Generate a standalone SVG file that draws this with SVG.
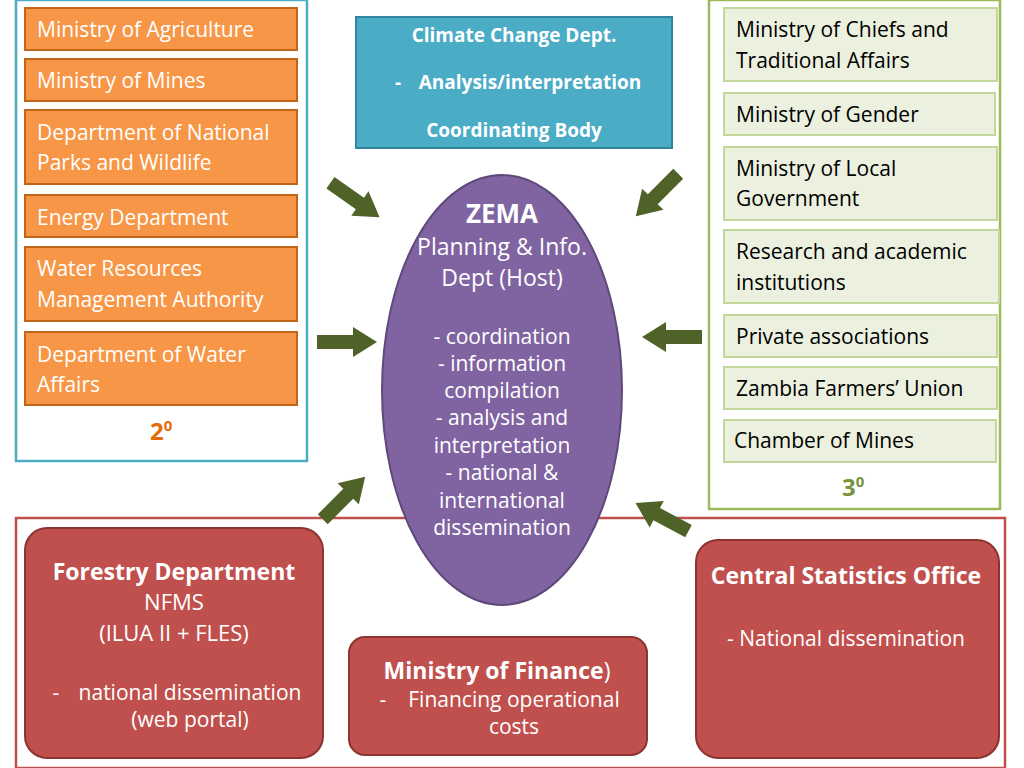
<svg xmlns="http://www.w3.org/2000/svg" width="1024" height="768" viewBox="0 0 1024 768">
<style>
.or{fill:#f79646;stroke:#c0661a;stroke-width:2}
.gr{fill:#ebf1de;stroke:#c3d69b;stroke-width:2}
.rd{fill:#c0504d;stroke:#8c3431;stroke-width:2}
.ot{font-family:"Open Sans","DejaVu Sans",sans-serif;font-size:21px;fill:#fff}
.gt{font-family:"Open Sans","DejaVu Sans",sans-serif;font-size:21px;fill:#000}
.w{font-family:"Open Sans","Liberation Sans",sans-serif;fill:#fff;text-anchor:middle}
.arr{fill:#4f6228}
</style>
<defs><path id="ba" d="M-30,-7 L6,-7 L6,-15 L30,0 L6,15 L6,7 L-30,7 Z"/></defs>
<rect width="1024" height="768" fill="#fff"/>
<g id="containers" fill="none" stroke-width="2.5">
<rect x="16" y="0" width="291" height="461" stroke="#4bacc6"/>
<rect x="709" y="0" width="291" height="509" stroke="#9bbb59"/>
<rect x="16" y="518" width="989" height="250" stroke="#c0504d"/>
</g>
<g id="left">
<rect class="or" x="25" y="8" width="272" height="42"/><text class="ot" x="37" y="37">Ministry of Agriculture</text>
<rect class="or" x="25" y="59" width="272" height="42"/><text class="ot" x="37" y="88">Ministry of Mines</text>
<rect class="or" x="25" y="110" width="272" height="74"/><text class="ot" x="37" y="140">Department of National</text><text class="ot" x="37" y="170">Parks and Wildlife</text>
<rect class="or" x="25" y="195" width="272" height="42"/><text class="ot" x="37" y="225">Energy Department</text>
<rect class="or" x="25" y="247" width="272" height="74"/><text class="ot" x="37" y="276">Water Resources</text><text class="ot" x="37" y="307">Management Authority</text>
<rect class="or" x="25" y="332" width="272" height="73"/><text class="ot" x="37" y="362">Department of Water</text><text class="ot" x="37" y="392">Affairs</text>
<text x="150" y="440" font-family="Open Sans,sans-serif" font-weight="bold" font-size="24" fill="#e46c0a">2<tspan font-size="15" dy="-9">0</tspan></text>
</g>
<g id="right">
<rect class="gr" x="724" y="8" width="273" height="73"/><text class="gt" x="736" y="37">Ministry of Chiefs and</text><text class="gt" x="736" y="68">Traditional Affairs</text>
<rect class="gr" x="724" y="93" width="271" height="42"/><text class="gt" x="736" y="122">Ministry of Gender</text>
<rect class="gr" x="724" y="147" width="273" height="73"/><text class="gt" x="736" y="176">Ministry of Local</text><text class="gt" x="736" y="206">Government</text>
<rect class="gr" x="724" y="230" width="275" height="73"/><text class="gt" x="736" y="259">Research and academic</text><text class="gt" x="736" y="290">institutions</text>
<rect class="gr" x="724" y="315" width="273" height="42"/><text class="gt" x="736" y="344">Private associations</text>
<rect class="gr" x="724" y="367" width="273" height="42"/><text class="gt" x="736" y="396">Zambia Farmers’ Union</text>
<rect class="gr" x="724" y="420" width="272" height="42"/><text class="gt" x="734" y="448">Chamber of Mines</text>
<text x="842" y="496" font-family="Open Sans,sans-serif" font-weight="bold" font-size="24" fill="#77933c">3<tspan font-size="15" dy="-9">0</tspan></text>
</g>
<g id="climate">
<rect x="356" y="17" width="316" height="131" fill="#4bacc6" stroke="#31859c" stroke-width="2"/>
<text class="w" font-weight="bold" font-size="19" x="514" y="42">Climate Change Dept.</text>
<text class="w" font-weight="bold" font-size="19" x="398" y="89">-</text>
<text class="w" font-weight="bold" font-size="19" x="530" y="89">Analysis/interpretation</text>
<text class="w" font-weight="bold" font-size="19" x="514" y="137">Coordinating Body</text>
</g>
<g id="zema">
<ellipse cx="502" cy="390" rx="120" ry="215" fill="#8064a2" stroke="#5f497a" stroke-width="2"/>
<text class="w" font-weight="bold" font-size="26" x="502" y="223">ZEMA</text>
<text class="w" font-size="23" x="502" y="255">Planning &amp; Info.</text>
<text class="w" font-size="23" x="502" y="286">Dept (Host)</text>
<g font-size="21"><text class="w" x="502" y="344">- coordination</text><text class="w" x="502" y="371">- information</text><text class="w" x="502" y="398">compilation</text><text class="w" x="502" y="425">- analysis and</text><text class="w" x="502" y="453">interpretation</text><text class="w" x="502" y="480">- national &amp;</text><text class="w" x="502" y="508">international</text><text class="w" x="502" y="535">dissemination</text></g>
</g>
<g id="forestry">
<rect class="rd" x="25" y="528" width="298" height="230" rx="22"/>
<text class="w" font-weight="bold" font-size="23" x="174" y="580">Forestry Department</text>
<text class="w" font-size="22" x="174" y="610">NFMS</text>
<text class="w" font-size="22" x="174" y="641">(ILUA II + FLES)</text>
<text class="w" font-size="21" x="56" y="700">-</text>
<text class="w" font-size="21" x="190" y="700">national dissemination</text>
<text class="w" font-size="21" x="190" y="727">(web portal)</text>
</g>
<g id="finance">
<rect class="rd" x="349" y="637" width="298" height="118" rx="16"/>
<text class="w" font-weight="bold" font-size="23" x="497" y="679">Ministry of Finance<tspan font-weight="normal">)</tspan></text>
<text class="w" font-size="21" x="383" y="707">-</text>
<text class="w" font-size="21" x="514" y="707">Financing operational</text>
<text class="w" font-size="21" x="514" y="734">costs</text>
</g>
<g id="cso">
<rect class="rd" x="696" y="540" width="303" height="218" rx="22"/>
<text class="w" font-weight="bold" font-size="23" x="846" y="584">Central Statistics Office</text>
<text class="w" font-size="21" x="846" y="646">- National dissemination</text>
</g>
<g id="connectors" class="arr">
<use href="#ba" transform="translate(355,200) rotate(35)"/>
<use href="#ba" transform="translate(657,195) rotate(135)"/>
<use href="#ba" transform="translate(347,342)"/>
<use href="#ba" transform="translate(672,337) rotate(180)"/>
<use href="#ba" transform="translate(344,498) rotate(-45)"/>
<use href="#ba" transform="translate(662,517) rotate(208)"/>
</g>
</svg>
